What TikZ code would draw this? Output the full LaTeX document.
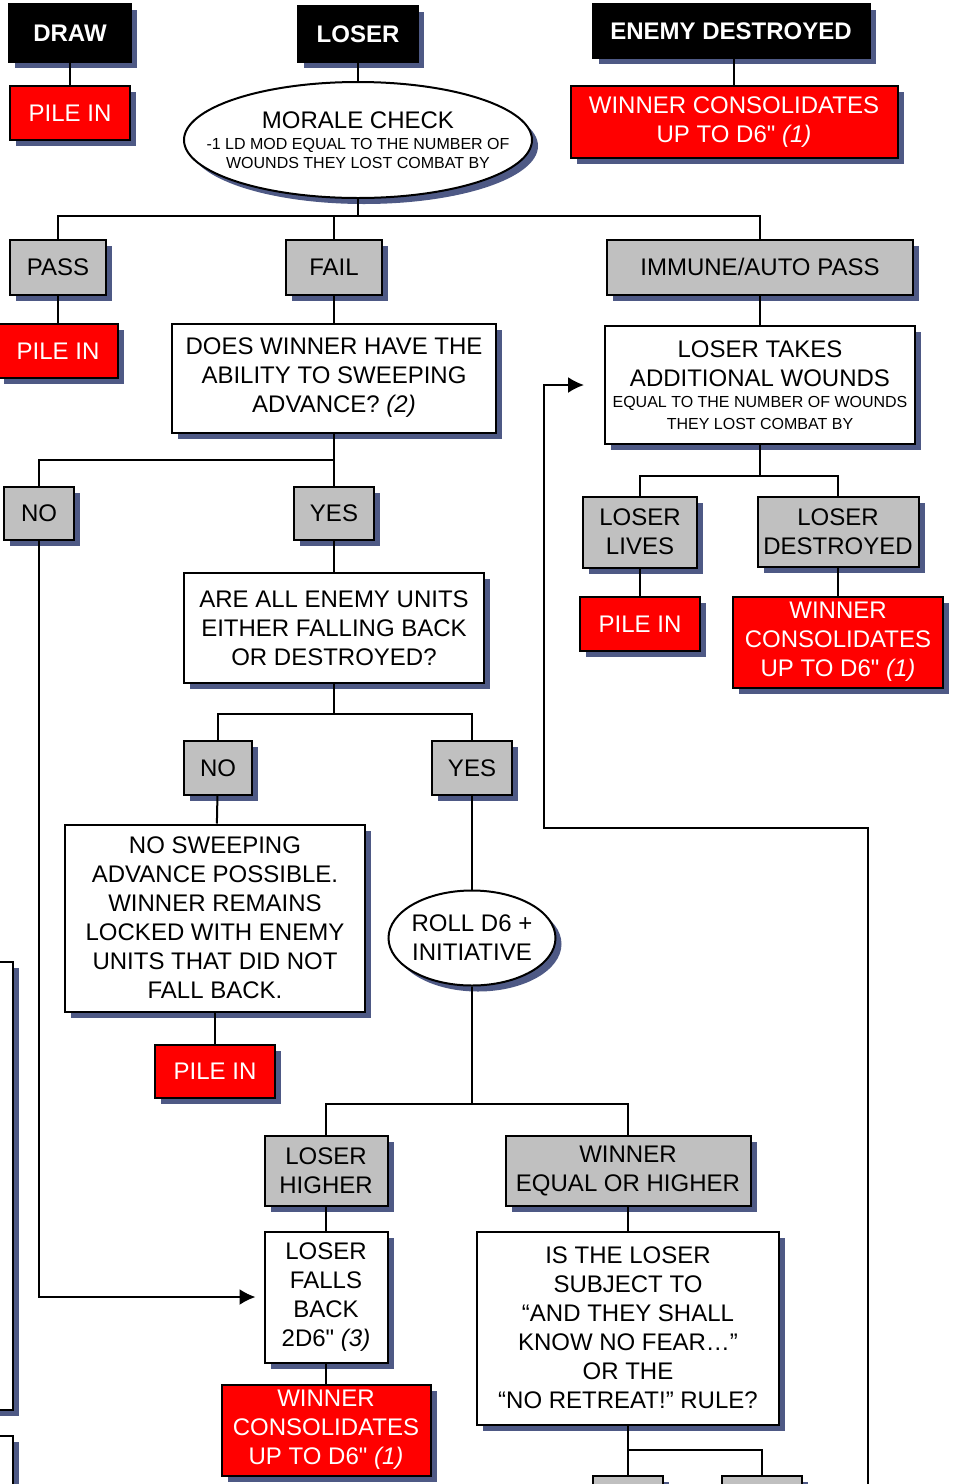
\documentclass[tikz,border=0pt]{standalone}
\usepackage{fontspec}
\setmainfont{Liberation Sans}[Ligatures=TeXOff]
\usetikzlibrary{arrows.meta, shapes.geometric, shadows}
\definecolor{shadowblue}{RGB}{78,89,133}
\definecolor{boxgrey}{RGB}{192,192,192}
\definecolor{boxred}{RGB}{255,0,0}
\newcommand{\smalltxt}{\fontsize{8}{11}\selectfont}

\begin{document}
\begin{tikzpicture}[x=0.5pt, y=-0.5pt]
    % Define styles
    \tikzstyle{base} = [rectangle, draw=black, line width=1pt, inner sep=0pt,
                        align=center, font=\fontsize{12}{14.5}\selectfont,
                        drop shadow={shadow xshift=3pt, shadow yshift=-3pt,
                                     fill=shadowblue, opacity=1}]
    \tikzstyle{header} = [base, fill=black, text=white,
                          font=\fontsize{12}{14.5}\selectfont\bfseries]
    \tikzstyle{block} = [base, fill=white]
    \tikzstyle{choice} = [base, fill=boxgrey]
    \tikzstyle{result} = [base, fill=boxred, text=white]
    \tikzstyle{oval} = [base, ellipse, fill=white]
    \tikzstyle{link} = [line width=1pt]
    \tikzstyle{arrow} = [link, -{Latex[length=8pt, width=8pt]}]

    \path[use as bounding box, fill=white] (0,0) rectangle (955,1484);

    % Create blocks
    \node[header, minimum width=61pt, minimum height=29pt] (drawhead) at (70,33) {DRAW};
    \node[result, minimum width=60pt, minimum height=27pt] (pileA) at (70,113) {PILE IN};
    \node[header, minimum width=60pt, minimum height=28pt] (loser) at (358,34) {LOSER};
    \node[header, minimum width=138.5pt, minimum height=27pt] (enemy) at (731,31) {ENEMY DESTROYED};
    \node[result, minimum width=163.5pt, minimum height=36pt] (consA) at (734,122)
        {WINNER CONSOLIDATES\\UP TO D6" \textit{(1)}};
    \node[oval, inner xsep=-15pt, minimum width=174pt, minimum height=58pt] (morale) at (358,140)
        {MORALE CHECK\\[-4pt]{\smalltxt -1 LD MOD EQUAL TO THE NUMBER OF}\\[-5pt]{\smalltxt WOUNDS THEY LOST COMBAT BY}};

    \node[choice, minimum width=48pt, minimum height=27.5pt] (pass) at (58,267) {PASS};
    \node[choice, minimum width=48pt, minimum height=27.5pt] (fail) at (334,267) {FAIL};
    \node[choice, minimum width=153pt, minimum height=27.5pt] (immune) at (760,267) {IMMUNE/AUTO PASS};
    \node[result, minimum width=60pt, minimum height=27pt] (pileB) at (58,351) {PILE IN};
    \node[block, minimum width=162pt, minimum height=54.5pt] (sweep) at (334,378)
        {DOES WINNER HAVE THE\\ABILITY TO SWEEPING\\ADVANCE? \textit{(2)}};
    \node[block, minimum width=155pt, minimum height=59pt] (takes) at (760,385)
        {LOSER TAKES\\ADDITIONAL WOUNDS\\[-4pt]{\smalltxt EQUAL TO THE NUMBER OF WOUNDS}\\[-3.5pt]{\smalltxt THEY LOST COMBAT BY}};

    \node[choice, minimum width=35pt, minimum height=26.5pt] (noA) at (39,513) {NO};
    \node[choice, minimum width=40pt, minimum height=26.5pt] (yesA) at (334,513) {YES};
    \node[choice, minimum width=57pt, minimum height=35.5pt] (lives) at (640,532) {LOSER\\LIVES};
    \node[choice, minimum width=80.5pt, minimum height=35pt] (destroyed) at (838,532) {LOSER\\DESTROYED};
    \node[result, minimum width=60pt, minimum height=27pt] (pileD) at (640,624) {PILE IN};
    \node[result, minimum width=105pt, minimum height=45.5pt] (consC) at (838,642)
        {WINNER\\CONSOLIDATES\\UP TO D6" \textit{(1)}};
    \node[block, minimum width=150pt, minimum height=55pt] (allenemy) at (334,628)
        {ARE ALL ENEMY UNITS\\EITHER FALLING BACK\\OR DESTROYED?};

    \node[choice, minimum width=34pt, minimum height=27pt] (noB) at (218,768) {NO};
    \node[choice, minimum width=40pt, minimum height=27pt] (yesB) at (472,768) {YES};
    \node[block, minimum width=150pt, minimum height=93.5pt] (nosweep) at (215,918)
        {NO SWEEPING\\ADVANCE POSSIBLE.\\WINNER REMAINS\\LOCKED WITH ENEMY\\UNITS THAT DID NOT\\FALL BACK.};
    \node[result, minimum width=60pt, minimum height=26.5pt] (pileC) at (215,1071) {PILE IN};
    \node[oval, inner xsep=-2pt, minimum width=83.5pt, minimum height=47.5pt] (roll) at (472,938)
        {ROLL D6 +\\INITIATIVE};

    \node[choice, minimum width=61.5pt, minimum height=35pt] (loshigh) at (326,1171) {LOSER\\HIGHER};
    \node[choice, minimum width=122.5pt, minimum height=35pt] (winhigh) at (628,1171) {WINNER\\EQUAL OR HIGHER};
    \node[block, minimum width=61.5pt, minimum height=65.5pt] (fallsback) at (326,1297)
        {LOSER\\FALLS\\BACK\\2D6" \textit{(3)}};
    \node[result, minimum width=104.5pt, minimum height=45.5pt] (consB) at (326,1430)
        {WINNER\\CONSOLIDATES\\UP TO D6" \textit{(1)}};
    \node[block, minimum width=151pt, minimum height=96.5pt] (subject) at (628,1328)
        {IS THE LOSER\\SUBJECT TO\\“AND THEY SHALL\\KNOW NO FEAR…”\\OR THE\\“NO RETREAT!” RULE?};
    \node[choice, minimum width=35pt, minimum height=27pt] (botA) at (628,1503) {};
    \node[choice, minimum width=40pt, minimum height=27pt] (botB) at (762,1503) {};

    \node[block, minimum width=60pt, minimum height=224pt] (leftA) at (-47,1186) {};
    \node[block, minimum width=60pt, minimum height=84pt] (leftB) at (-47,1520) {};

    % Junctions
    \coordinate (j1) at (358,216);
    \coordinate (j2) at (334,460);
    \coordinate (j3) at (334,714);
    \coordinate (j4) at (472,1104);
    \coordinate (j5) at (628,1450);
    \coordinate (j6) at (760,476);
    \coordinate (offbottom) at (868,1530);
    \coordinate (loopback) at (544,828);

    % Draw arrows
    \draw[link] (drawhead) -- (pileA);
    \draw[link] (loser) -- (morale);
    \draw[link] (consA) -- (consA |- enemy.south);
    \draw[link] (morale) -- (j1);
    \draw[link] (pass) |- (j1) -| (immune);
    \draw[link] (fail) -- (fail |- j1);
    \draw[link] (pass) -- (pileB);
    \draw[link] (fail) -- (sweep);
    \draw[link] (immune) -- (takes);
    \draw[link] (sweep) -- (yesA);
    \draw[link] (noA) |- (j2);
    \draw[link] (yesA) -- (allenemy);
    \draw[link] (allenemy) -- (j3);
    \draw[link] (noB) |- (j3) -| (yesB);
    \draw[link] (noB) -- (nosweep);
    \draw[link] (nosweep) -- (pileC);
    \draw[link] (yesB) -- (roll);
    \draw[link] (roll) -- (j4);
    \draw[link] (loshigh) |- (j4) -| (winhigh);
    \draw[link] (loshigh) -- (fallsback);
    \draw[link] (fallsback) -- (consB);
    \draw[link] (winhigh) -- (subject);
    \draw[link] (subject) -- (botA);
    \draw[link] (j5) -| (botB);
    \draw[link] (takes) -- (j6);
    \draw[link] (lives) |- (j6) -| (destroyed);
    \draw[link] (lives) -- (pileD);
    \draw[link] (destroyed) -- (consC);
    \draw[arrow, shorten >=4pt] (noA) |- (fallsback);
    \draw[arrow, shorten >=10pt] (offbottom) |- (loopback) |- (takes);
\end{tikzpicture}
\end{document}
